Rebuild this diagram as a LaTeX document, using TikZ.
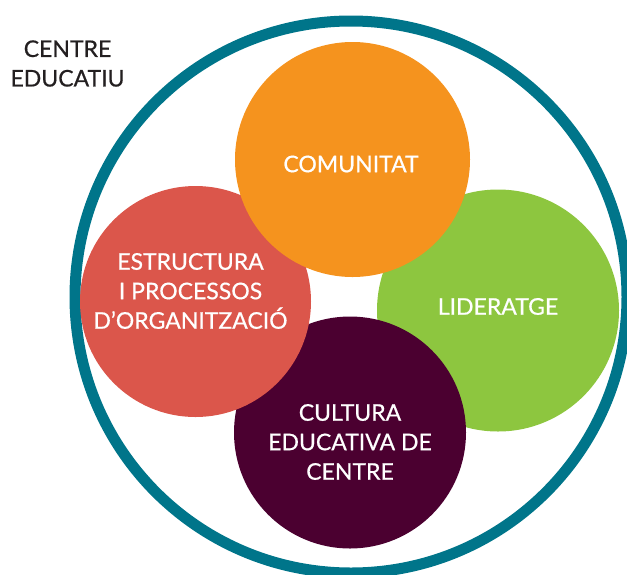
\documentclass[tikz,border=0pt]{standalone}
\usepackage{fontspec}
\setmainfont{Lato}[FakeBold=0.6]
\usepackage{xcolor}
\definecolor{ringteal}{RGB}{0, 117, 138}
\definecolor{comunitatorange}{RGB}{245, 147, 30}
\definecolor{estructurared}{RGB}{219, 86, 75}
\definecolor{lideratgegreen}{RGB}{141, 198, 63}
\definecolor{culturapurple}{RGB}{75, 0, 48}
\definecolor{labelgray}{RGB}{35, 31, 32}

\begin{document}
\begin{tikzpicture}[
  x=1pt, y=-1pt,
  font=\fontsize{23}{29.5}\selectfont,
  ring/.style={
    circle,
    draw=ringteal,
    line width=11pt,
    minimum size=552pt,
    inner sep=0pt,
  },
  bubble/.style={
    circle,
    inner sep=0pt,
  },
  bubbletext/.style={
    text=white,
    align=center,
    inner sep=0pt,
  },
  ringtext/.style={
    text=labelgray,
    align=center,
    inner sep=0pt,
  }
]
  \useasboundingbox (0, 0) rectangle (627, 574);

  % Centre educatiu
  \node[ring] (centre) at (351, 297) {};
  \node[ringtext] (centre-t) at (67.5, 63.5) {CENTRE\\EDUCATIU};

  % Lideratge
  \node[bubble, fill=lideratgegreen, minimum size=242pt] (lideratge) at (498, 310.5) {};
  \node[bubbletext] (lideratge-t) at (498, 306.5) {LIDERATGE};

  % Cultura
  \node[bubble, fill=culturapurple, minimum size=232pt] (cultura) at (350, 432.5) {};
  \node[bubbletext] (cultura-t) at (350, 442) {CULTURA\\EDUCATIVA DE\\CENTRE};

  % Estructura
  \node[bubble, fill=estructurared, minimum size=231pt] (estructura) at (195.5, 301.5) {};
  \node[bubbletext] (estructura-t) at (190.5, 291) {ESTRUCTURA\\I PROCESSOS\\D’ORGANITZACIÓ};

  % Comunitat
  \node[bubble, fill=comunitatorange, minimum size=235pt] (comunitat) at (352.5, 159.5) {};
  \node[bubbletext] (comunitat-t) at (351, 164) {COMUNITAT};

\end{tikzpicture}
\end{document}
